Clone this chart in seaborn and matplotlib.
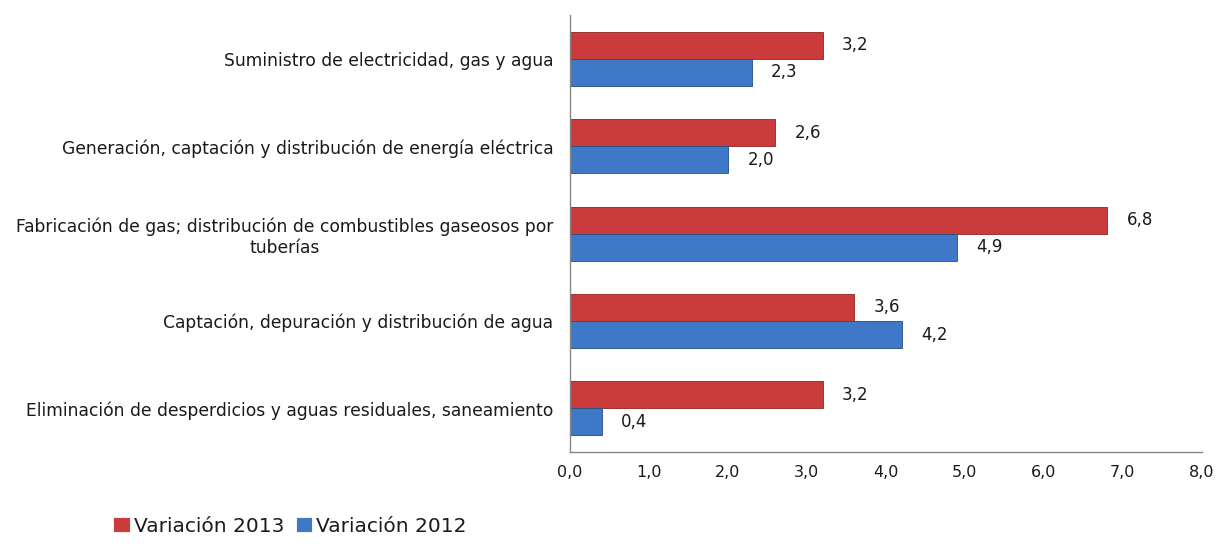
import matplotlib
matplotlib.use("Agg")
import matplotlib.pyplot as plt
import seaborn as sns
import numpy as np
import pandas as pd

sns.set_style("white")
plt.rcParams["font.family"] = ["DejaVu Sans"]

# --------------------------------------------------
# Data
# --------------------------------------------------

categories = [
    "Suministro de electricidad, gas y agua",
    "Generación, captación y distribución de energía eléctrica",
    "Fabricación de gas; distribución de combustibles gaseosos por\ntuberías",
    "Captación, depuración y distribución de agua",
    "Eliminación de desperdicios y aguas residuales, saneamiento",
]
series_names = ["Variación 2013", "Variación 2012"]
var_2013 = [3.2, 2.6, 6.8, 3.6, 3.2]
var_2012 = [2.3, 2.0, 4.9, 4.2, 0.4]
x_ticks = [0, 1, 2, 3, 4, 5, 6, 7, 8]

df = pd.DataFrame({
    "categoria": categories * 2,
    "serie": [series_names[0]] * len(categories) + [series_names[1]] * len(categories),
    "valor": var_2013 + var_2012,
})

palette = {series_names[0]: "#CC3B3B", series_names[1]: "#3E78C6"}

# --------------------------------------------------
# Plot
# --------------------------------------------------

fig = plt.figure(figsize=(12.22, 5.44), dpi=100)
ax = fig.add_axes([0.4664, 0.169, 0.517, 0.803])

sns.barplot(data=df, x="valor", y="categoria", hue="serie", order=categories,
            hue_order=series_names, palette=palette, width=0.62,
            linewidth=0.6, saturation=1, ax=ax)

# darker edge per series + value labels
for cont, ec in zip(ax.containers, ["#8E2424", "#244E85"]):
    for bar in cont:
        bar.set_edgecolor(ec)
    ax.bar_label(cont, labels=[f"{v:.1f}".replace(".", ",") for v in cont.datavalues],
                 padding=14, fontsize=12, color="#1a1a1a")

ax.set_xlim(0, 8)
ax.set_xticks(x_ticks)
ax.set_xticklabels([f"{t:.1f}".replace(".", ",") for t in x_ticks], fontsize=11.5, color="#1a1a1a")
ax.set_ylim(len(categories) - 0.5, -0.5)
ax.set_yticks(range(len(categories)))
ax.set_yticklabels(categories, fontsize=12.3, multialignment="center", color="#1a1a1a")
ax.set_yticks(np.arange(-0.5, len(categories), 1), minor=True)
ax.tick_params(axis="y", which="major", length=0, pad=12)
ax.tick_params(axis="y", which="minor", length=5, color="#888888", direction="out")
ax.tick_params(axis="x", which="major", length=5, color="#888888", direction="out", pad=4)

ax.set_xlabel("")
ax.set_ylabel("")
for side in ["top", "right"]:
    ax.spines[side].set_visible(False)
for side in ["left", "bottom"]:
    ax.spines[side].set_color("#888888")
    ax.spines[side].set_linewidth(1)

leg = ax.legend(loc="lower left", bbox_to_anchor=(0.078, -0.018), bbox_transform=fig.transFigure,
                ncol=2, frameon=False, fontsize=14.5, handlelength=0.8, handleheight=0.8,
                handletextpad=0.2, columnspacing=0.6, labelcolor="#1a1a1a")

plt.savefig("out.png", dpi=100)
